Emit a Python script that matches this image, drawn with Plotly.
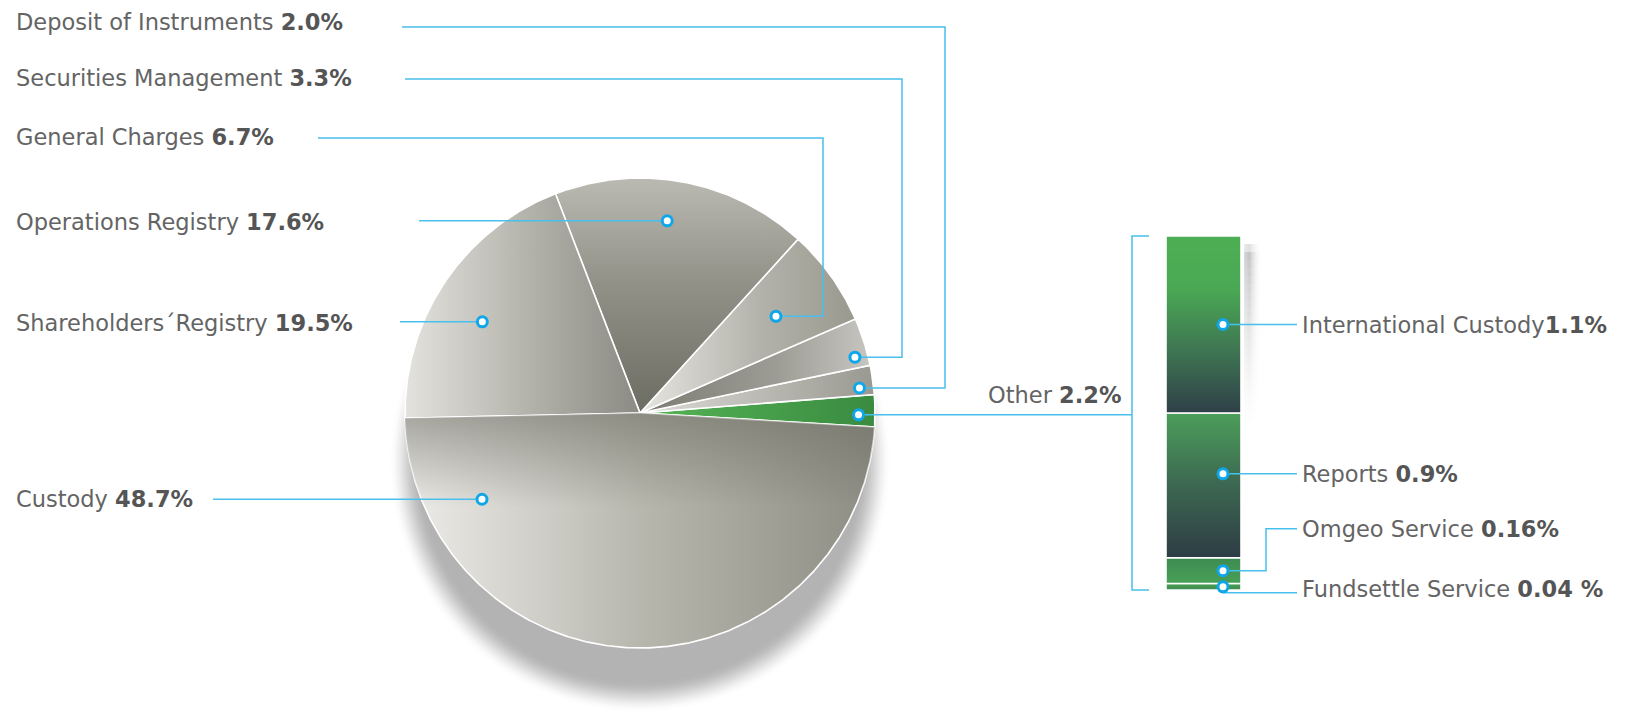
import math
import plotly.graph_objects as go

# ---- data -------------------------------------------------------------------
pie_labels = ["Other", "Deposit of Instruments", "Securities Management",
              "General Charges", "Operations Registry",
              "Shareholders´Registry", "Custody"]
pie_values = [2.2, 2.0, 3.3, 6.7, 17.6, 19.5, 48.7]
pie_value_text = ["2.2%", "2.0%", "3.3%", "6.7%", "17.6%", "19.5%", "48.7%"]

other_labels = ["Fundsettle Service", "Omgeo Service", "Reports",
                "International Custody"]
other_values = [0.04, 0.16, 0.9, 1.1]
other_value_text = ["0.04 %", "0.16%", "0.9%", "1.1%"]

# ---- canvas / styling -------------------------------------------------------
W, H = 1635, 714
CX, CY, R = 640, 413, 235
START_ANGLE = -3.4          # degrees, counter-clockwise from 3 o'clock

FONT = "DejaVu Sans"
FS = 22.5
TXT = "#646464"
NUM = "#555555"
LINE = "#48bfec"
DOT = "#10a6ea"

# gradient fills for each slice (same order as pie_labels)
slice_fill = [
    ("horizontal", [[0, "#56b456"], [1, "#3a8b40"]]),
    ("horizontal", [[0, "#dddcd7"], [1, "#9a9991"]]),
    ("horizontal", [[0, "#7b7b72"], [0.6, "#9e9d95"], [1, "#c6c5c0"]]),
    ("horizontal", [[0, "#e6e5e1"], [0.55, "#b4b3ab"], [1, "#9a998f"]]),
    ("vertical", [[0, "#bbbab2"], [0.45, "#929188"], [1, "#6c6d62"]]),
    ("horizontal", [[0, "#e3e2de"], [0.5, "#b6b5ad"], [1, "#8c8b83"]]),
    ("horizontal", [[0, "#edece9"], [0.5, "#b8b7ae"], [1, "#8d8d83"]]),
]
# where the leader dot sits inside each slice: (fraction of span, fraction of radius)
dot_anchor = [(0.37, 0.93), (0.275, 0.94), (0.24, 0.945), (0.49, 0.71),
              (0.54, 0.826), (0.554, 0.775), (0.156, 0.766)]
# label text y, horizontal leader y (None = dot level), leader start x, elbow x
label_route = {
    "Deposit of Instruments": (22, 27, 402, 945),
    "Securities Management": (78, 79, 405, 902),
    "General Charges": (137, 138, 318, 823),
    "Operations Registry": (222, None, 419, None),
    "Shareholders´Registry": (323, None, 400, None),
    "Custody": (499, None, 213, None),
}

# stacked bar for the "Other" breakdown
BAR_X0, BAR_X1 = 1166, 1241
BAR_TOP, BAR_BOT = 236, 590
BRACKET_X = 1132
bar_fill = [
    [[0, "#3d8a4f"], [1, "#4a9f57"]],
    [[0, "#48a057"], [1, "#3e8b51"]],
    [[0, "#2e3c45"], [0.5, "#3c6751"], [1, "#4c9e5a"]],
    [[0, "#2f3f48"], [0.35, "#3e7552"], [0.7, "#4aa854"], [1, "#4daf54"]],
]
bar_dot_frac = [0.5, 0.5, 0.58, 0.5]
BAR_DOT_X = 1223
BAR_LABEL_X = 1300
BAR_LEAD_END = 1297


def pt(deg, r):
    a = math.radians(deg)
    return CX + r * math.cos(a), CY - r * math.sin(a)


fig = go.Figure()

# ---- soft shadow below the pie ---------------------------------------------
shapes = []
SH_CX, SH_CY = 640, 462
n_layers = 18
for k in range(n_layers):
    t = k / (n_layers - 1)             # 0 outer -> 1 inner
    r = 252 - 32 * t
    s = t * t * (3 - 2 * t)
    g = round(255 - (255 - 179) * s)
    shapes.append(dict(type="circle", xref="x", yref="y", layer="below",
                       x0=SH_CX - r, x1=SH_CX + r, y0=SH_CY - r, y1=SH_CY + r,
                       line=dict(width=0), fillcolor=f"rgb({g},{g},{g})"))

# ---- pie slices -------------------------------------------------------------
total = sum(pie_values)
spans = []
a = START_ANGLE
for v in pie_values:
    d = 360.0 * v / total
    spans.append((a, a + d))
    a += d


def slice_xy(a0, a1):
    n = max(2, int((a1 - a0) / 0.5) + 1)
    xs, ys = [CX], [CY]
    for k in range(n + 1):
        x, y = pt(a0 + (a1 - a0) * k / n, R)
        xs.append(x)
        ys.append(y)
    xs.append(CX)
    ys.append(CY)
    return xs, ys


for (a0, a1), (gtype, cs) in zip(spans, slice_fill):
    xs, ys = slice_xy(a0, a1)
    grad = dict(type=gtype, colorscale=cs)
    if gtype == "vertical":
        # screen top -> bottom
        grad.update(start=min(ys), stop=max(ys))
    fig.add_trace(go.Scatter(x=xs, y=ys, mode="lines", fill="toself",
                             line=dict(color="white", width=1.6),
                             fillgradient=grad, hoverinfo="skip"))

# darker band along the top of the largest slice
a0, a1 = spans[-1]
xs, ys = slice_xy(a0, a1)
fig.add_trace(go.Scatter(x=xs, y=ys, mode="none", fill="toself",
                         fillgradient=dict(type="vertical", start=CY, stop=CY + R,
                                           colorscale=[[0, "rgba(105,105,95,0.55)"],
                                                       [0.4, "rgba(105,105,95,0)"],
                                                       [1, "rgba(105,105,95,0)"]]),
                         hoverinfo="skip"))

# ---- pie leader lines, dots and labels -------------------------------------
annotations = []
dots_x, dots_y = [], []
for i, lab in enumerate(pie_labels):
    a0, a1 = spans[i]
    t, rf = dot_anchor[i]
    mx, my = pt(a0 + (a1 - a0) * t, R * rf)
    dots_x.append(mx)
    dots_y.append(my)
    if lab == "Other":
        fig.add_trace(go.Scatter(x=[mx, BRACKET_X], y=[my, my], mode="lines",
                                 line=dict(color=LINE, width=1.5), hoverinfo="skip"))
        annotations.append(dict(x=1123, y=395, xref="x", yref="y",
                                xanchor="right", yanchor="middle", showarrow=False,
                                text=f"{lab} <b><span style='color:{NUM}'>{pie_value_text[i]}</span></b>",
                                font=dict(family=FONT, size=FS, color=TXT)))
        continue
    ty, ly, sx, ex = label_route[lab]
    if ex is None:
        lx, lyy = [sx, mx], [my, my]
    else:
        lx, lyy = [sx, ex, ex, mx], [ly, ly, my, my]
    fig.add_trace(go.Scatter(x=lx, y=lyy, mode="lines",
                             line=dict(color=LINE, width=1.5), hoverinfo="skip"))
    annotations.append(dict(x=14, y=ty, xref="x", yref="y",
                            xanchor="left", yanchor="middle", showarrow=False,
                            text=f"{lab} <b><span style='color:{NUM}'>{pie_value_text[i]}</span></b>",
                            font=dict(family=FONT, size=FS, color=TXT)))

# ---- stacked bar (value axis y2) -------------------------------------------
tot2 = sum(other_values)
ppu = (BAR_BOT - BAR_TOP) / tot2          # pixels per percentage point


def px_to_v(p):
    return (BAR_BOT - p) / ppu


# soft shadow on the right of the bar, fading downwards
n_sh = 24
for k in range(n_sh):
    y0 = BAR_TOP + 8 + k * 8
    if k == 0:
        alpha = 0.35
    else:
        alpha = 0.7 * (1 - k / n_sh) ** 1.6
    fig.add_trace(go.Scatter(
        x=[1244, 1262, 1262, 1244, 1244], y=[y0, y0, y0 + 8, y0 + 8, y0],
        mode="none", fill="toself",
        fillgradient=dict(type="horizontal", colorscale=[
            [0, f"rgba(170,170,176,{alpha * 0.7:.3f})"],
            [0.3, f"rgba(165,165,170,{alpha:.3f})"],
            [1, "rgba(255,255,255,0)"]]),
        hoverinfo="skip"))

cum = 0.0
bar_dots_y = []
for i, v in enumerate(other_values):
    lo, hi = cum, cum + v
    cum = hi
    fig.add_trace(go.Scatter(
        x=[BAR_X0, BAR_X1, BAR_X1, BAR_X0, BAR_X0], y=[lo, lo, hi, hi, lo],
        yaxis="y2", mode="lines", fill="toself",
        line=dict(color="white", width=1.6),
        fillgradient=dict(type="vertical", colorscale=bar_fill[i]),
        hoverinfo="skip"))
    bar_dots_y.append(lo + v * bar_dot_frac[i])

# bracket grouping the breakdown
fig.add_trace(go.Scatter(x=[BRACKET_X + 17, BRACKET_X, BRACKET_X, BRACKET_X + 17],
                         y=[tot2, tot2, 0, 0], yaxis="y2", mode="lines",
                         line=dict(color=LINE, width=1.5), hoverinfo="skip"))

for i, lab in enumerate(other_labels):
    my = bar_dots_y[i]
    if lab == "Omgeo Service":
        ly = my + 42 / ppu
        lx, lyy = [BAR_DOT_X, 1266, 1266, BAR_LEAD_END], [my, my, ly, ly]
        ty = ly
    elif lab == "Fundsettle Service":
        ly = my - 6 / ppu
        lx, lyy = [BAR_DOT_X, BAR_DOT_X, BAR_LEAD_END], [my, ly, ly]
        ty = my - 2 / ppu
    else:
        lx, lyy = [BAR_DOT_X, BAR_LEAD_END], [my, my]
        ty = my
    fig.add_trace(go.Scatter(x=lx, y=lyy, yaxis="y2", mode="lines",
                             line=dict(color=LINE, width=1.5), hoverinfo="skip"))
    sep = "" if lab == "International Custody" else " "
    annotations.append(dict(x=BAR_LABEL_X, y=ty, xref="x", yref="y2",
                            xanchor="left", yanchor="middle", showarrow=False,
                            text=f"{lab}{sep}<b><span style='color:{NUM}'>{other_value_text[i]}</span></b>",
                            font=dict(family=FONT, size=FS, color=TXT)))

# ---- dots on top ------------------------------------------------------------
dot_marker = dict(size=10, color="white", line=dict(color=DOT, width=3))
fig.add_trace(go.Scatter(x=dots_x, y=dots_y, mode="markers", marker=dot_marker,
                         hoverinfo="skip"))
fig.add_trace(go.Scatter(x=[BAR_DOT_X] * len(bar_dots_y), y=bar_dots_y, yaxis="y2",
                         mode="markers", marker=dot_marker, hoverinfo="skip"))

axis_off = dict(visible=False, showgrid=False, zeroline=False, fixedrange=True)
fig.update_layout(
    width=W, height=H,
    margin=dict(l=0, r=0, t=0, b=0, pad=0),
    paper_bgcolor="white", plot_bgcolor="white",
    showlegend=False, hovermode=False,
    xaxis=dict(range=[0, W], **axis_off),
    yaxis=dict(range=[H, 0], **axis_off),
    yaxis2=dict(range=[px_to_v(H), px_to_v(0)], overlaying="y", **axis_off),
    shapes=shapes,
    annotations=annotations,
)

fig.write_html("out.html")
